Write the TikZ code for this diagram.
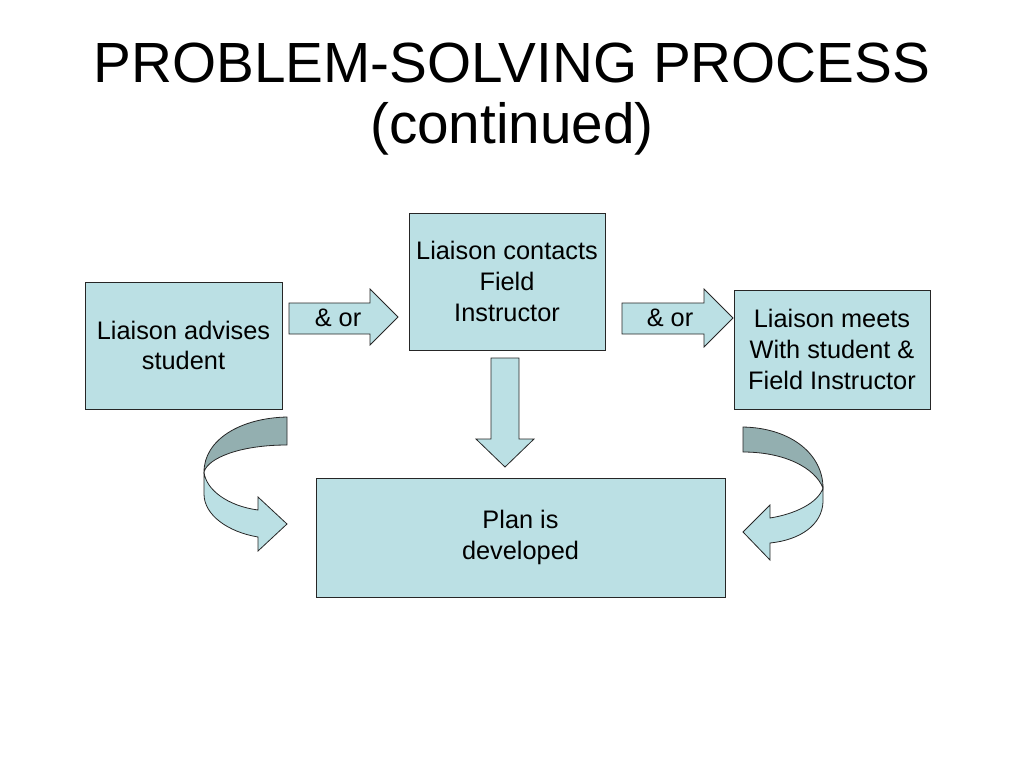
\documentclass[tikz,border=0pt]{standalone}
\usepackage{fontspec}
\setmainfont{Liberation Sans}
\definecolor{boxfill}{RGB}{187,224,228}
\definecolor{bandfill}{RGB}{147,175,176}
\tikzset{
  box/.style={draw=black!85, line width=0.6pt, fill=boxfill, align=center,
    font=\fontsize{19}{23}\selectfont, inner sep=0pt},
  blockarrow/.style={draw=black!85, line width=0.6pt, fill=boxfill, line join=miter},
  band/.style={draw=black!85, line width=0.6pt, fill=bandfill}
}
\begin{document}
\begin{tikzpicture}[x=0.75pt, y=-0.75pt]
    % Page
    \useasboundingbox (0,0) rectangle (1024,768);

    % Title
    \node[anchor=base, font=\fontsize{42.5}{46}\selectfont] (title) at (512,82) {PROBLEM-SOLVING PROCESS};
    \node[anchor=base, font=\fontsize{42.5}{46}\selectfont] (cont) at (512,143) {(continued)};

    % Boxes
    \node[box, minimum width=147.75pt, minimum height=95.25pt] (advise) at (183.5,345.5) {Liaison advises\\student};
    \node[box, minimum width=147pt, minimum height=102.75pt] (contact) at (507,281.5) {Liaison contacts\\Field\\Instructor};
    \node[box, minimum width=147pt, minimum height=89.25pt] (meet) at (832,349.5) {Liaison meets\\With student \&\\Field Instructor};
    \node[box, minimum width=306.75pt, minimum height=89.25pt] (plan) at (520.5,537.5) {Plan is\\developed};

    % Block arrows
    \draw[blockarrow] (289,303) -- (370,303) -- (370,289) -- (398,317) -- (370,345) -- (370,334) -- (289,334) -- cycle;
    \node[font=\fontsize{19}{23}\selectfont] (or1) at (338,318) {\& or};
    \draw[blockarrow] (622,303) -- (704,303) -- (704,289) -- (733,318) -- (704,347) -- (704,334) -- (622,334) -- cycle;
    \node[font=\fontsize{19}{23}\selectfont] (or2) at (670,318) {\& or};
    \draw[blockarrow] (491,358) -- (519,358) -- (519,439) -- (534,439) -- (505,467) -- (476,439) -- (491,439) -- cycle;

    % Curved arrow, left
    \draw[band] (287,417) .. controls (240,418) and (204,440) .. (204,472)
        .. controls (208,458) and (240,445) .. (287,445) -- cycle;
    \draw[blockarrow] (204,472) -- (204,494) .. controls (204,515) and (228,532) .. (258,537)
        -- (258,551) -- (287,524) -- (258,497) -- (258,510)
        .. controls (228,506) and (206,490) .. (204,472) -- cycle;

    % Curved arrow, right
    \draw[band] (743,427) .. controls (792,428) and (823,455) .. (823,488)
        .. controls (815,468) and (785,452) .. (743,452) -- cycle;
    \draw[blockarrow] (823,488) -- (823,502) .. controls (822,525) and (800,540) .. (770,543)
        -- (770,560) -- (743,532) -- (770,505) -- (770,518)
        .. controls (795,514) and (818,503) .. (823,488) -- cycle;
\end{tikzpicture}
\end{document}
